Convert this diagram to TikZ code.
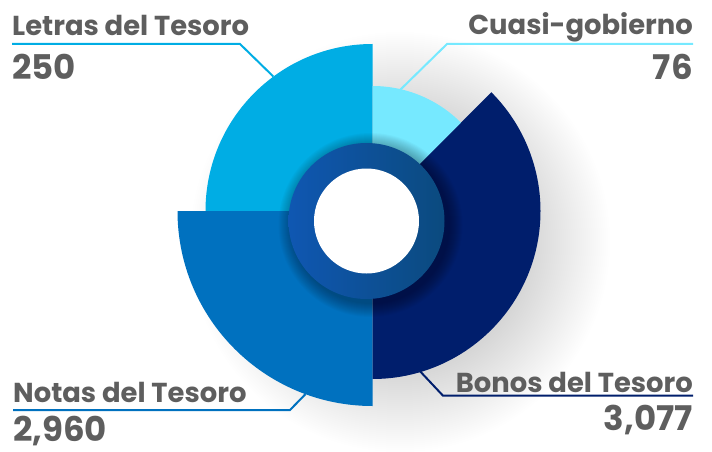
\documentclass[tikz,border=0pt]{standalone}
\usepackage{fontspec}
\setmainfont{Poppins}
\usetikzlibrary{calc}
\definecolor{letras}{HTML}{00ADE4}
\definecolor{notas}{HTML}{0071BF}
\definecolor{bonos}{HTML}{001E6C}
\definecolor{cuasi}{HTML}{76E9FF}
\definecolor{anilloL}{HTML}{0F57B2}
\definecolor{anilloR}{HTML}{0B4A7E}
\definecolor{texto}{HTML}{5E5E5E}
\begin{document}
\begin{tikzpicture}[x=1pt, y=1pt,
  etiqueta/.style={inner sep=0, text=texto, font=\fontsize{27.4}{31}\selectfont\bfseries},
  cifra/.style={inner sep=0, text=texto, font=\fontsize{34}{40}\selectfont\bfseries},
  guia/.style={line width=2pt, line join=miter}]
\useasboundingbox (0,0) rectangle (712,451);

\coordinate (C) at (372.5,240);
\coordinate (R) at (366.5,230);
\coordinate (sombra) at (400,209);

% sombra suave
\foreach \r in {130,132,...,210}
  \fill[black, opacity=0.0045] (sombra) circle (\r);

% sectores
\fill[letras] (C) -- ++(90:167) arc[start angle=90, end angle=180, radius=167] -- cycle;
\fill[notas] (C) -- ++(180:195) arc[start angle=180, end angle=270, radius=195] -- cycle;
\fill[bonos] (C) -- ++(-90:168) arc[start angle=-90, end angle=45, radius=168] -- cycle;
\fill[cuasi] (C) -- ++(45:125) arc[start angle=45, end angle=90, radius=125] -- cycle;

% anillo central
\foreach \r in {79,...,92}
  \fill[black, opacity=0.025] ($(R)+(4,-4)$) circle (\r);
\shade[left color=anilloL, right color=anilloR] (R) circle (78);
\fill[white] (R) circle (52.5);

% etiquetas
\node[etiqueta, anchor=base west] (letras-label) at (12,415.5) {Letras del Tesoro};
\node[cifra, anchor=base west] (letras-valor) at (12,371) {250};
\node[etiqueta, anchor=base east] (cuasi-label) at (693,416) {Cuasi-gobierno};
\node[cifra, anchor=base east] (cuasi-valor) at (693,371) {76};
\node[etiqueta, anchor=base west] (notas-label) at (13,49) {Notas del Tesoro};
\node[cifra, anchor=base west] (notas-valor) at (13,10) {2,960};
\node[etiqueta, anchor=base east] (bonos-label) at (693,58.7) {Bonos del Tesoro};
\node[cifra, anchor=base east] (bonos-valor) at (693,21) {3,077};

% guias
\coordinate (letras-tip) at ($(C)+(126.4:167)$);
\coordinate (cuasi-tip) at ($(C)+(77.2:124)$);
\coordinate (notas-tip) at ($(C)+(249.9:195)$);
\coordinate (bonos-tip) at ($(C)+(-73.5:167)$);
\draw[guia, letras] (letras-label.south west |- 0,407) -- (240,407) -- (letras-tip);
\draw[guia, cuasi] (cuasi-label.south east |- 0,407) -- (447,407) -- (cuasi-tip);
\draw[guia, notas] (notas-label.south west |- 0,41) -- (290,41) -- (notas-tip);
\draw[guia, bonos] (bonos-label.south east |- 0,55.3) -- (443,55.3) -- (bonos-tip);
\end{tikzpicture}
\end{document}
